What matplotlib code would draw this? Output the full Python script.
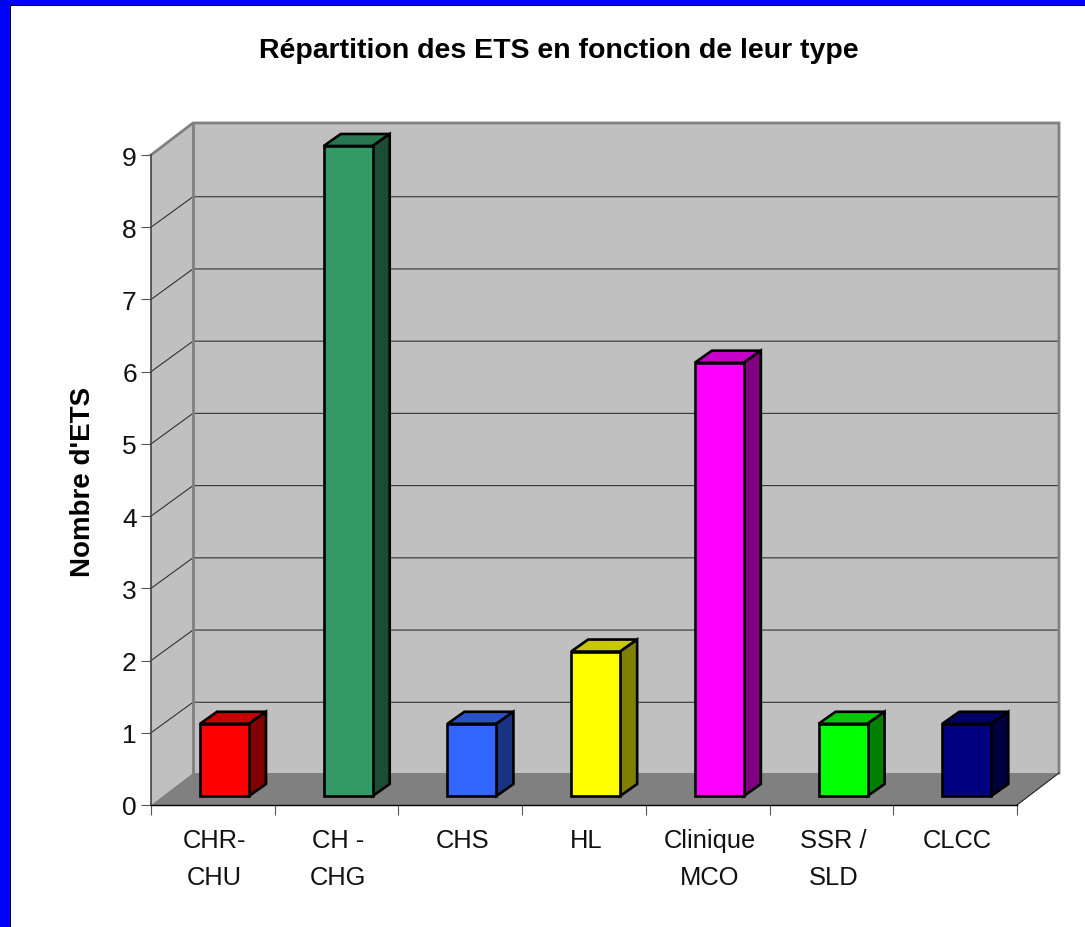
import numpy as np
import matplotlib
matplotlib.use("Agg")
import matplotlib.pyplot as plt
from matplotlib.patches import Polygon, Rectangle

plt.rcParams["font.family"] = ["Liberation Sans", "DejaVu Sans"]

categories = ["CHR-\nCHU", "CH -\nCHG", "CHS", "HL", "Clinique\nMCO", "SSR /\nSLD", "CLCC"]
values = [1, 9, 1, 2, 6, 1, 1]
colors = ["#ff0000", "#339966", "#3366ff", "#ffff00", "#ff00ff", "#00ff00", "#000080"]
y_ticks = list(range(10))

W, H = 1085, 928
# size of one category / one unit in pixels, used for the fake 3d depth
px_x = 866 / 7
px_y = 650 / 9
wall_dx = 42 / px_x
wall_dy = 32 / px_y
grid_dy = 30.5 / px_y
bar_dx = 17 / px_x
bar_dy = 12 / px_y
bar_x0 = 49 / px_x
bar_w = 49 / px_x
bar_y0 = 9 / px_y


def shade(c, f):
    return tuple(v * f for v in matplotlib.colors.to_rgb(c))


fig = plt.figure(figsize=(W / 100, H / 100), dpi=100, facecolor="white")
ax = fig.add_axes([151 / W, (H - 806) / H, 866 / W, 650 / H])
ax.set_xlim(0, 7)
ax.set_ylim(0, 9)
ax.patch.set_visible(False)

n = len(categories)
ymax = y_ticks[-1]

# walls and floor
ax.add_patch(Polygon([(0, 0), (wall_dx, wall_dy), (wall_dx, ymax + wall_dy), (0, ymax)],
                     fc="#c0c0c0", ec="none", clip_on=False, zorder=1))
ax.add_patch(Rectangle((wall_dx, wall_dy), n, ymax, fc="#c0c0c0", ec="none", clip_on=False, zorder=1))
ax.add_patch(Polygon([(0, 0), (n, 0), (n + wall_dx, wall_dy), (wall_dx, wall_dy)],
                     fc="#808080", ec="none", clip_on=False, zorder=1))

# gridlines
for y in y_ticks[1:-1]:
    ax.plot([0, wall_dx, n + wall_dx], [y, y + grid_dy, y + grid_dy], color="#333333", lw=0.8,
            clip_on=False, zorder=2)

# wall borders
ax.plot([0, wall_dx, n + wall_dx, n + wall_dx], [ymax, ymax + wall_dy, ymax + wall_dy, wall_dy],
        color="#808080", lw=2, clip_on=False, zorder=2, solid_joinstyle="miter")
ax.plot([wall_dx, wall_dx], [wall_dy, ymax + wall_dy], color="#808080", lw=2, clip_on=False, zorder=2)
ax.plot([n, n + wall_dx], [0, wall_dy], color="#222222", lw=0.8, clip_on=False, zorder=2)

# bars
for i, (v, c) in enumerate(zip(values, colors)):
    x0 = i + bar_x0
    x1 = x0 + bar_w
    y0 = bar_y0
    y1 = bar_y0 + v
    kw = dict(ec="black", lw=1.9, joinstyle="miter", clip_on=False, zorder=3)
    ax.add_patch(Polygon([(x0, y1), (x1, y1), (x1 + bar_dx, y1 + bar_dy), (x0 + bar_dx, y1 + bar_dy)],
                         fc=shade(c, 0.78), **kw))
    ax.add_patch(Polygon([(x1, y0), (x1 + bar_dx, y0 + bar_dy), (x1 + bar_dx, y1 + bar_dy), (x1, y1)],
                         fc=shade(c, 0.5), **kw))
    ax.add_patch(Rectangle((x0, y0), bar_w, v, fc=c, **kw))

# axes
for s in ["top", "right"]:
    ax.spines[s].set_visible(False)
ax.spines["left"].set_color("#444444")
ax.spines["left"].set_linewidth(1.2)
ax.spines["bottom"].set_color("black")
ax.spines["bottom"].set_linewidth(1.0)
for s in ax.spines.values():
    s.set_zorder(4)

ax.set_yticks(y_ticks)
ax.tick_params(axis="y", length=7.2, width=0.8, color="#555555", labelsize=19, pad=3, labelcolor="#111111")
ax.set_xticks(np.arange(n + 1))
ax.set_xticklabels([])
ax.set_xticks(np.arange(n) + 0.515, categories, minor=True)
ax.tick_params(axis="x", which="major", length=7.2, width=0.8, color="#555555")
ax.tick_params(axis="x", which="minor", length=0, labelsize=18.4, pad=16.5, labelcolor="#111111")
for t in ax.get_xticklabels(minor=True):
    t.set_linespacing(1.7)

ax.set_ylabel("Nombre d'ETS", fontsize=20, fontweight="bold")
ax.yaxis.set_label_coords((96 - 151) / 866, (806 - 482) / 650)

fig.text(559 / W, 1 - 51 / H, "Répartition des ETS en fonction de leur type", ha="center", va="center",
         fontsize=20.5, fontweight="bold")

# blue slide border on left and top
fig.add_artist(Rectangle((0, 0), 10 / W, 1, transform=fig.transFigure, fc="#0000ff", ec="none"))
fig.add_artist(Rectangle((0, 1 - 6 / H), 1, 6 / H, transform=fig.transFigure, fc="#0000ff", ec="none"))
fig.add_artist(Rectangle((10 / W, 0), 1 / W, 1 - 6 / H, transform=fig.transFigure, fc="black", ec="none"))
fig.add_artist(Rectangle((10 / W, 1 - 7 / H), 1 - 10 / W, 1 / H, transform=fig.transFigure, fc="black", ec="none"))

fig.savefig("out.png", dpi=100)
